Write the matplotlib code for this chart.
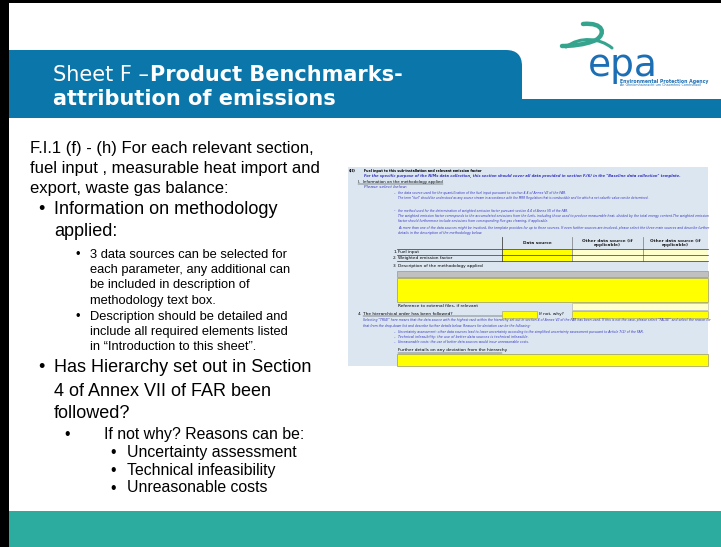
import matplotlib.pyplot as plt
from matplotlib.patches import Rectangle, PathPatch
from matplotlib.path import Path

W, H = 721, 547

# slide text
title_normal = "Sheet F –"
title_bold = ["Product Benchmarks-", "attribution of emissions"]

intro_lines = ["F.I.1 (f) - (h) For each relevant section,",
               "fuel input , measurable heat import and",
               "export, waste gas balance:"]
info_lines = ["Information on methodology", "applied:"]
info_subs = [["3 data sources can be selected for",
              "each parameter, any additional can",
              "be included in description of",
              "methodology text box."],
             ["Description should be detailed and",
              "include all required elements listed",
              "in \u201cIntroduction to this sheet\u201d."]]
hier_lines = ["Has Hierarchy set out in Section", "4 of Annex VII of FAR been", "followed?"]
hier_sub = "If not why? Reasons can be:"
reasons = ["Uncertainty assessment", "Technical infeasibility", "Unreasonable costs"]

logo_word = "epa"
logo_sub = ["Environmental Protection Agency", "An Ghníomhaireacht um Chaomhnú Comhshaoil"]

# embedded template screenshot text
form_head = "Fuel input to this sub-installation and relevant emission factor"
form_note = ('For the specific purpose of the NIMs data collection, this section should cover all data '
             'provided in section F.(6) in the "Baseline data collection" template.')
form_sec1 = "I.  Information on the methodology applied"
form_select = "Please select below:"
form_expl = [["the data source used for the quantification of the fuel input pursuant to section 4.4 of Annex VII of the FAR.",
              'The term "fuel" should be understood as any source stream in accordance with the MRR Regulation that is combustible and for which a net calorific value can be determined.'],
             ["the method used for the determination of weighted emission factor pursuant section 4.4 of Annex VII of the FAR.",
              "The weighted emission factor corresponds to the accumulated emissions from the fuels, including those used to produce measurable heat, divided by the total energy content.The weighted emission",
              "factor should furthermore include emissions from corresponding flue gas cleaning, if applicable."]]
form_more = ["As more than one of the data sources might be involved, the template provides for up to three sources. If even further sources are involved, please select the three main sources and describe further",
             "details in the description of the methodology below."]
form_cols = ["Data source", "Other data source (if\napplicable)", "Other data source (if\napplicable)"]
form_rows = ["Fuel input", "Weighted emission factor"]
form_desc = "Description of the methodology applied"
form_ref = "Reference to external files, if relevant"
form_hier = "The hierarchical order has been followed?"
form_why = "If not, why?"
form_hier_note = ['Selecting "TRUE" here means that the data source with the highest rank within the hierarchy set out in section 4 of Annex VII of the FAR has been used. If this is not the case, please select "FALSE" and select the reason for',
                  "that from the drop-down list and describe further details below. Reasons for deviation can be the following:"]
form_reasons = ["Uncertainty assessment: other data sources lead to lower uncertainty according to the simplified uncertainty assessment pursuant to Article 7(2) of the FAR.",
                "Technical infeasibility: the use of better data sources is technical infeasible.",
                "Unreasonable costs: the use of better data sources would incur unreasonable costs."]
form_further = "Further details on any deviation from the hierarchy"

BLUE = '#0b76a9'
TEAL = '#2cab9f'
FORM_BG = '#dce6f1'
FORM_TXT = '#3535c0'
YELLOW = '#ffff00'
LIGHT_Y = '#ffffcc'
BODY = 'Liberation Sans'

fig = plt.figure(figsize=(W / 100, H / 100), dpi=100)
ax = fig.add_axes([0, 0, 1, 1])
ax.set_xlim(0, W)
ax.set_ylim(H, 0)
ax.axis('off')
renderer = fig.canvas.get_renderer()

# frame and footer
ax.add_patch(Rectangle((9, 511), W - 9, H - 511, color=TEAL, lw=0))
ax.add_patch(Rectangle((0, 0), W, 3, color='black', lw=0))
ax.add_patch(Rectangle((0, 0), 9, H, color='black', lw=0))

# title bar with rounded corner
x0, x1, y0, y1, r = 9, 522, 50, 118, 16
verts = [(x0, y0), (x1 - r, y0), (x1, y0), (x1, y0 + r), (x1, y1), (x0, y1), (x0, y0)]
codes = [Path.MOVETO, Path.LINETO, Path.CURVE3, Path.CURVE3, Path.LINETO, Path.LINETO, Path.CLOSEPOLY]
ax.add_patch(PathPatch(Path(verts, codes), color=BLUE, lw=0))
ax.add_patch(Rectangle((x1 - 1, 99), W - x1 + 1, y1 - 99, color=BLUE, lw=0))

t = ax.text(53, 75, title_normal, color='white', fontsize=15, va='center', family='DejaVu Sans')
bb = t.get_window_extent(renderer)
xe = ax.transData.inverted().transform((bb.x1, bb.y0))[0]
ax.text(xe + 1, 75, title_bold[0], color='white', fontsize=15, va='center',
        weight='bold', family='DejaVu Sans')
ax.text(53, 99, title_bold[1], color='white', fontsize=15, va='center',
        weight='bold', family='DejaVu Sans')

# logo
swirl = '#35a48e'
p1 = Path([(583, 24), (604, 22), (606, 34), (596, 40), (585, 45), (570, 46), (562, 46)],
          [Path.MOVETO, Path.CURVE4, Path.CURVE4, Path.CURVE4, Path.CURVE4, Path.CURVE4, Path.CURVE4])
ax.add_patch(PathPatch(p1, fill=False, ec=swirl, lw=3.2, capstyle='round'))
p2 = Path([(566, 47), (580, 36), (600, 38), (612, 48)],
          [Path.MOVETO, Path.CURVE4, Path.CURVE4, Path.CURVE4])
ax.add_patch(PathPatch(p2, fill=False, ec=swirl, lw=2.2, capstyle='round'))
ax.text(623, 76, logo_word, color='#1c6fb4', fontsize=27, ha='center', va='baseline',
        family='DejaVu Sans')
ax.text(620, 81, logo_sub[0], color='#1c6fb4', fontsize=3.3, va='center', weight='bold')
ax.text(620, 85.5, logo_sub[1], color='#1c6fb4', fontsize=2.4, va='center')

# left text block
def line(x, y, s, size):
    ax.text(x, y, s, fontsize=size, va='center', family=BODY, color='black')

for y, s in zip([149, 169, 189], intro_lines):
    line(30, y, s, 12)

line(38, 210, "\u2022", 13)
for y, s in zip([210, 232], info_lines):
    line(54, y, s, 13)

y = 255
for para in info_subs:
    line(75, y, "\u2022", 9.3)
    for s in para:
        line(90, y, s, 9.3)
        y += 15.2
    y += 0.8

line(38, 368, "\u2022", 13)
for y, s in zip([368, 391, 413], hier_lines):
    line(54, y, s, 13)

line(64, 434, "\u2022", 11.4)
line(104, 434, hier_sub, 11.4)
for y, s in zip([452, 470, 488], reasons):
    line(110, y, "\u2022", 11.4)
    line(127, y, s, 11.4)

# embedded template screenshot
fx0, fx1, fy0, fy1 = 348, 708, 167, 366
ax.add_patch(Rectangle((fx0, fy0), fx1 - fx0, fy1 - fy0, color=FORM_BG, lw=0))
fs = 3.1

def ftxt(x, y, s, color='black', x_end=None, **kw):
    tt = ax.text(x, y, s, fontsize=fs, va='center', color=color, **kw)
    if x_end is not None:
        w = tt.get_window_extent(renderer).width
        tt.set_fontsize(fs * (x_end - x) / w)
    return tt

ftxt(349, 171, "(II)", weight='bold')
ftxt(364, 171, form_head, weight='bold', x_end=482)
ftxt(364, 176, form_note, color=FORM_TXT, style='italic', weight='bold', x_end=674)
ftxt(358, 181.5, form_sec1, x_end=442)
ax.plot([358, 443], [183.5, 183.5], color='black', lw=0.3)
ftxt(364, 186.5, form_select, color=FORM_TXT, style='italic')

expl_ends = [[568, 649], [567, 706, 550]]
yy = 193
for grp, ends in zip(form_expl, expl_ends):
    ftxt(394, yy, "-", color=FORM_TXT)
    for s, e in zip(grp, ends):
        ftxt(398, yy, s, color=FORM_TXT, style='italic', x_end=e)
        yy += 5.3
    yy += 7
yy = 228
for s, e in zip(form_more, [705, 481]):
    ftxt(398, yy, s, color=FORM_TXT, style='italic', x_end=e)
    yy += 5.3

# table
c = [502, 572, 643, 708]
ax.plot([502, 502], [237, 261], color='#444444', lw=0.6)
ax.plot([572, 572], [237, 261], color='#777777', lw=0.5)
ax.plot([643, 643], [237, 261], color='#777777', lw=0.5)
for i, lab in enumerate(form_cols):
    ax.text((c[i] + c[i + 1]) / 2, 243, lab, fontsize=fs, ha='center', va='center',
            weight='bold', color='#222222', linespacing=1.0)
ax.add_patch(Rectangle((502, 249), 70, 12, color=YELLOW, lw=0))
ax.add_patch(Rectangle((572, 249), 136, 12, color=LIGHT_Y, lw=0))
for yl in [249, 255, 261]:
    ax.plot([397, 708], [yl, yl], color='#333333', lw=0.5)
for i, s in enumerate(form_rows):
    ftxt(393, 252 + 6 * i, f"{i + 1}.")
    ftxt(398, 252 + 6 * i, s)
ftxt(393, 266, "3.")
ftxt(398, 266, form_desc)
ax.add_patch(Rectangle((397, 271), 311, 6, fc='#c0c0c0', ec='#888888', lw=0.4))
ax.add_patch(Rectangle((397, 278), 311, 24, fc=YELLOW, ec='#999966', lw=0.5))
ftxt(398, 306, form_ref)
ax.add_patch(Rectangle((572, 302.5), 136, 7, fc=LIGHT_Y, ec='#aaaaaa', lw=0.4))
ftxt(358, 314, "4.")
ftxt(363, 314, form_hier)
ax.plot([363, 502], [316, 316], color='black', lw=0.3)
ax.add_patch(Rectangle((502, 310.5), 35, 7, fc=YELLOW, ec='#999966', lw=0.4))
ftxt(539, 314, form_why)
ax.add_patch(Rectangle((572, 310.5), 136, 7, fc=YELLOW, ec='#999966', lw=0.4))
for i, (s, e) in enumerate(zip(form_hier_note, [707, 533])):
    ftxt(363, 320.5 + 5 * i, s, color=FORM_TXT, style='italic', x_end=e)
for i, (s, e) in enumerate(zip(form_reasons, [643, 524, 529])):
    ftxt(394, 332 + 5 * i, "-", color=FORM_TXT)
    ftxt(398, 332 + 5 * i, s, color=FORM_TXT, style='italic', x_end=e)
ftxt(398, 350.5, form_further)
ax.plot([398, 502], [352.5, 352.5], color='black', lw=0.3)
ax.add_patch(Rectangle((397, 354), 311, 12, fc=YELLOW, ec='#999966', lw=0.5))

fig.savefig('out.png', dpi=100)
